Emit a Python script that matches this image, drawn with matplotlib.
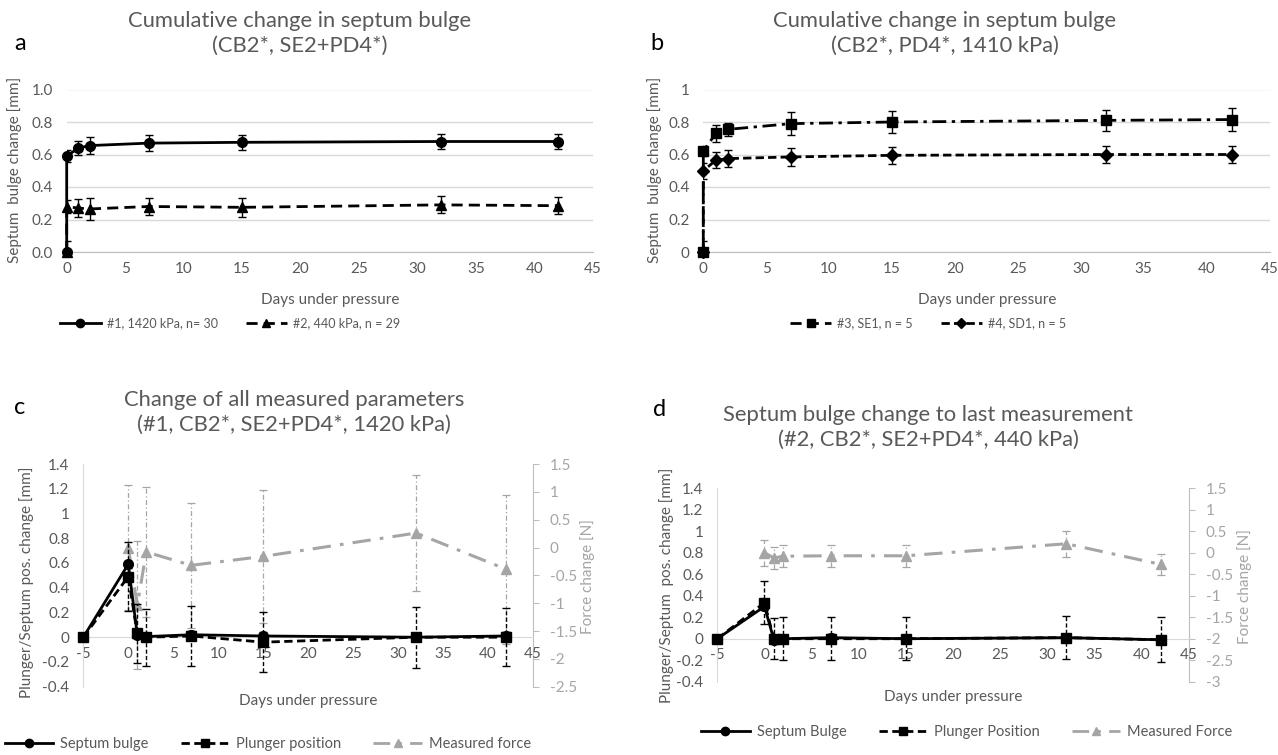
import matplotlib
matplotlib.use('Agg')
import matplotlib.pyplot as plt
from matplotlib.ticker import FuncFormatter, MultipleLocator, FixedLocator
from matplotlib.lines import Line2D

plt.rcParams['font.family'] = ['Lato', 'DejaVu Sans']
plt.rcParams['axes.unicode_minus'] = False

# ---------------- data ----------------
# panel a
days_a = [0, 0, 1, 2, 7, 15, 32, 42]
bulge1 = [0.0, 0.59, 0.64, 0.655, 0.67, 0.675, 0.68, 0.68]
bulge1_err = [0.065, 0.035, 0.045, 0.05, 0.05, 0.047, 0.046, 0.046]
bulge2 = [0.0, 0.28, 0.27, 0.265, 0.28, 0.275, 0.29, 0.285]
bulge2_err = [0.0, 0.04, 0.054, 0.065, 0.05, 0.058, 0.052, 0.053]
labels_a = ['#1, 1420 kPa, n= 30', '#2, 440 kPa, n = 29']

# panel b
days_b = [0, 0, 1, 2, 7, 15, 32, 42]
se1 = [0.0, 0.62, 0.73, 0.755, 0.79, 0.80, 0.81, 0.815]
se1_err = [0.065, 0.03, 0.05, 0.04, 0.07, 0.065, 0.065, 0.07]
sd1 = [0.0, 0.50, 0.565, 0.575, 0.585, 0.595, 0.60, 0.60]
sd1_err = [0.0, 0.05, 0.05, 0.05, 0.055, 0.053, 0.05, 0.05]
labels_b = ['#3, SE1, n = 5', '#4, SD1, n = 5']

# panel c
days_c = [-5, 0, 1, 2, 7, 15, 32, 42]
septum_c = [0.0, 0.59, 0.02, 0.005, 0.02, 0.01, 0.0, 0.01]
septum_c_err = [0.0, 0.03, 0.03, 0.03, 0.03, 0.03, 0.03, 0.03]
plunger_c = [0.0, 0.49, 0.03, 0.0, 0.01, -0.04, 0.0, 0.0]
plunger_c_err = [0.0, 0.28, 0.24, 0.23, 0.24, 0.24, 0.245, 0.235]
force_days_c = [0, 1, 2, 7, 15, 32, 42]
force_c = [0.0, -1.04, -0.08, -0.32, -0.16, 0.26, -0.39]
force_c_err = [1.13, 1.15, 1.16, 1.12, 1.19, 1.05, 1.34]
labels_c = ['Septum bulge', 'Plunger position', 'Measured force']

# panel d
days_d = [-5, 0, 1, 2, 7, 15, 32, 42]
septum_d = [0.0, 0.30, -0.01, 0.0, 0.01, 0.0, 0.01, -0.01]
septum_d_err = [0.0, 0.03, 0.03, 0.03, 0.03, 0.03, 0.03, 0.03]
plunger_d = [0.0, 0.335, 0.0, 0.0, 0.0, 0.0, 0.01, -0.01]
plunger_d_err = [0.0, 0.2, 0.19, 0.2, 0.2, 0.2, 0.2, 0.21]
force_days_d = [0, 1, 2, 7, 15, 32, 42]
force_d = [0.0, -0.12, -0.08, -0.07, -0.07, 0.21, -0.27]
force_d_err = [0.3, 0.25, 0.26, 0.25, 0.25, 0.3, 0.25]
labels_d = ['Septum Bulge', 'Plunger Position', 'Measured Force']

# ---------------- layout helpers ----------------
W, H = 1278, 755
fig = plt.figure(figsize=(W / 100, H / 100), dpi=100)


def rect(l, t, r, b):
    return [l / W, 1 - b / H, (r - l) / W, (b - t) / H]


def fx(x):
    return x / W


def fy(y):
    return 1 - y / H


TXT = '#595959'
GRID = '#D9D9D9'
AXL = '#BFBFBF'
FORCE = '#A5A5A5'
TICK_FS = 11
LAB_FS = 11
TITLE_FS = 15.8

fmt_g = FuncFormatter(lambda v, p: ('%g' % round(v, 2)))


def errline(ax, x, y, e, ls_line, ls_err, marker, color='black', lw=2.0, ms=7, elw=1.0, zo=3):
    cont = ax.errorbar(x, y, yerr=e, color=color, ecolor=color, lw=lw, ls=ls_line,
                       marker=marker, ms=ms, mec=color, mfc=color, elinewidth=elw,
                       capsize=3, capthick=elw, zorder=zo)
    for bl in cont[2]:
        bl.set_linestyle(ls_err)
    cont[0].set_clip_on(False)
    return cont


DASH_A = (0, (4, 2.2))
DASHDOT_B = (0, (5, 2, 1.2, 2))
DASH_B = (0, (3, 1.5))
DASH_P = (0, (3, 1.6))
DASHDOT_F = (0, (6, 3, 1.2, 3))

# ---------------- panel a ----------------
axa = fig.add_axes(rect(66.7, 89.5, 593, 252))
errline(axa, days_a, bulge1, bulge1_err, '-', '-', 'o')
errline(axa, days_a, bulge2, bulge2_err, DASH_A, '-', '^')
axa.set_xlim(0, 45)
axa.set_ylim(0, 1.0)
axa.xaxis.set_major_locator(MultipleLocator(5))
axa.yaxis.set_major_locator(MultipleLocator(0.2))
axa.yaxis.set_major_formatter(FuncFormatter(lambda v, p: '%.1f' % v))
axa.grid(axis='y', color=GRID, lw=1)
axa.set_axisbelow(True)

# ---------------- panel b ----------------
axb = fig.add_axes(rect(703.3, 89.5, 1269.5, 252))
errline(axb, days_b, se1, se1_err, DASHDOT_B, '-', 's')
errline(axb, days_b, sd1, sd1_err, DASH_B, '-', 'D', ms=6)
axb.set_xlim(0, 45)
axb.set_ylim(0, 1.0)
axb.xaxis.set_major_locator(MultipleLocator(5))
axb.yaxis.set_major_locator(MultipleLocator(0.2))
axb.yaxis.set_major_formatter(fmt_g)
axb.grid(axis='y', color=GRID, lw=1)
axb.set_axisbelow(True)

for ax in (axa, axb):
    for s in ('top', 'right', 'left'):
        ax.spines[s].set_visible(False)
    ax.spines['bottom'].set_color(AXL)
    ax.tick_params(length=0, labelsize=TICK_FS, labelcolor=TXT)
    ax.tick_params(axis='x', pad=7)
    ax.tick_params(axis='y', pad=10)

# ---------------- panels c / d ----------------
def mixed_panel(r, days, sep, sep_e, plu, plu_e, fdays, frc, frc_e, flim, fticks):
    ax = fig.add_axes(r)
    ax2 = ax.twinx()
    errline(ax2, fdays, frc, frc_e, DASHDOT_F, (0, (4, 2, 1, 2)), '^', color=FORCE, lw=2.2, elw=0.9, zo=2)
    errline(ax, days, plu, plu_e, DASH_P, (0, (3, 1.6)), 's', zo=3)
    errline(ax, days, sep, sep_e, '-', '-', 'o', zo=4)
    ax.set_zorder(ax2.get_zorder() + 1)
    ax.patch.set_visible(False)
    ax.set_xlim(-5, 45)
    ax.set_ylim(-0.4, 1.4)
    ax.xaxis.set_major_locator(MultipleLocator(5))
    ax.yaxis.set_major_locator(MultipleLocator(0.2))
    ax.xaxis.set_major_formatter(fmt_g)
    ax.yaxis.set_major_formatter(fmt_g)
    for s in ('top', 'right'):
        ax.spines[s].set_visible(False)
    ax.spines['left'].set_color(GRID)
    ax.spines['bottom'].set_color(GRID)
    ax.spines['bottom'].set_position(('data', 0))
    ax.tick_params(length=0, labelsize=TICK_FS, labelcolor=TXT)
    ax.tick_params(axis='x', pad=7)
    ax.tick_params(axis='y', pad=10)
    ax2.set_ylim(*flim)
    ax2.yaxis.set_major_locator(FixedLocator(fticks))
    ax2.yaxis.set_major_formatter(fmt_g)
    for s in ('top', 'left', 'bottom'):
        ax2.spines[s].set_visible(False)
    ax2.spines['right'].set_color(AXL)
    ax2.tick_params(axis='y', length=4, color=AXL, labelsize=TICK_FS, labelcolor=FORCE, pad=8)
    return ax, ax2


fticks_c = [-2.5, -2, -1.5, -1, -0.5, 0, 0.5, 1, 1.5]
axc, axc2 = mixed_panel(rect(83.3, 464, 533, 686.7), days_c, septum_c, septum_c_err,
                        plunger_c, plunger_c_err, force_days_c, force_c, force_c_err,
                        (-2.5, 1.5), fticks_c)
fticks_d = [-3, -2.5, -2, -1.5, -1, -0.5, 0, 0.5, 1, 1.5]
axd, axd2 = mixed_panel(rect(717.3, 488.3, 1189, 681.7), days_d, septum_d, septum_d_err,
                        plunger_d, plunger_d_err, force_days_d, force_d, force_d_err,
                        (-3, 1.5), fticks_d)

# ---------------- texts ----------------
def ftext(x, y, s, **kw):
    fig.text(fx(x), fy(y), s, **kw)

ftext(300, 33, 'Cumulative change in septum bulge\n(CB2*, SE2+PD4*)', ha='center', va='center',
      fontsize=TITLE_FS, color=TXT, linespacing=1.3)
ftext(945, 33, 'Cumulative change in septum bulge\n(CB2*, PD4*, 1410 kPa)', ha='center', va='center',
      fontsize=TITLE_FS, color=TXT, linespacing=1.3)
ftext(294, 412, 'Change of all measured parameters\n(#1, CB2*, SE2+PD4*, 1420 kPa)', ha='center',
      va='center', fontsize=TITLE_FS, color=TXT, linespacing=1.3)
ftext(928, 427, 'Septum bulge change to last measurement\n(#2, CB2*, SE2+PD4*, 440 kPa)', ha='center',
      va='center', fontsize=TITLE_FS, color=TXT, linespacing=1.3)

for x, y, s in ((20, 43, 'a'), (657, 43, 'b'), (20, 408, 'c'), (660, 410, 'd')):
    ftext(x, y, s, ha='center', va='center', fontsize=17, color='black')

ftext(330, 300, 'Days under pressure', ha='center', va='center', fontsize=LAB_FS, color=TXT)
ftext(987, 300, 'Days under pressure', ha='center', va='center', fontsize=LAB_FS, color=TXT)
ftext(308, 701, 'Days under pressure', ha='center', va='center', fontsize=LAB_FS, color=TXT)
ftext(953, 697, 'Days under pressure', ha='center', va='center', fontsize=LAB_FS, color=TXT)

ftext(15, 170, 'Septum  bulge change [mm]', ha='center', va='center', rotation=90, fontsize=LAB_FS, color=TXT)
ftext(655, 170, 'Septum  bulge change [mm]', ha='center', va='center', rotation=90, fontsize=LAB_FS, color=TXT)
ftext(27, 582, 'Plunger/Septum pos. change [mm]', ha='center', va='center', rotation=90, fontsize=LAB_FS, color=TXT)
ftext(667, 585, 'Plunger/Septum  pos. change [mm]', ha='center', va='center', rotation=90, fontsize=LAB_FS, color=TXT)
ftext(588, 577, 'Force change [N]', ha='center', va='center', rotation=90, fontsize=LAB_FS, color=FORCE)
ftext(1245, 587, 'Force change [N]', ha='center', va='center', rotation=90, fontsize=LAB_FS, color=FORCE)

# ---------------- legends ----------------
def h(ls, marker, color='black', lw=2.0, ms=6):
    return Line2D([], [], color=color, ls=ls, lw=lw, marker=marker, ms=ms, mfc=color, mec=color)

leg_kw = dict(loc='center', frameon=False, handlelength=3.3, handletextpad=0.5, columnspacing=2.2,
              labelcolor=TXT, borderaxespad=0)
fig.legend([h('-', 'o'), h(DASH_A, '^')], labels_a, bbox_to_anchor=(fx(230), fy(323)), ncol=2,
           fontsize=9, **leg_kw)
fig.legend([h(DASH_A, 's'), h(DASH_B, 'D', ms=5)], labels_b, bbox_to_anchor=(fx(928), fy(323)), ncol=2,
           fontsize=9, **leg_kw)
fig.legend([h('-', 'o'), h(DASH_P, 's'), h(DASHDOT_F, '^', color=FORCE)], labels_c,
           bbox_to_anchor=(fx(268), fy(744)), ncol=3, fontsize=10.5, **leg_kw)
fig.legend([h('-', 'o'), h(DASH_P, 's'), h(DASHDOT_F, '^', color=FORCE)], labels_d,
           bbox_to_anchor=(fx(967), fy(732)), ncol=3, fontsize=10.5, **leg_kw)

fig.savefig('out.png', dpi=100)
